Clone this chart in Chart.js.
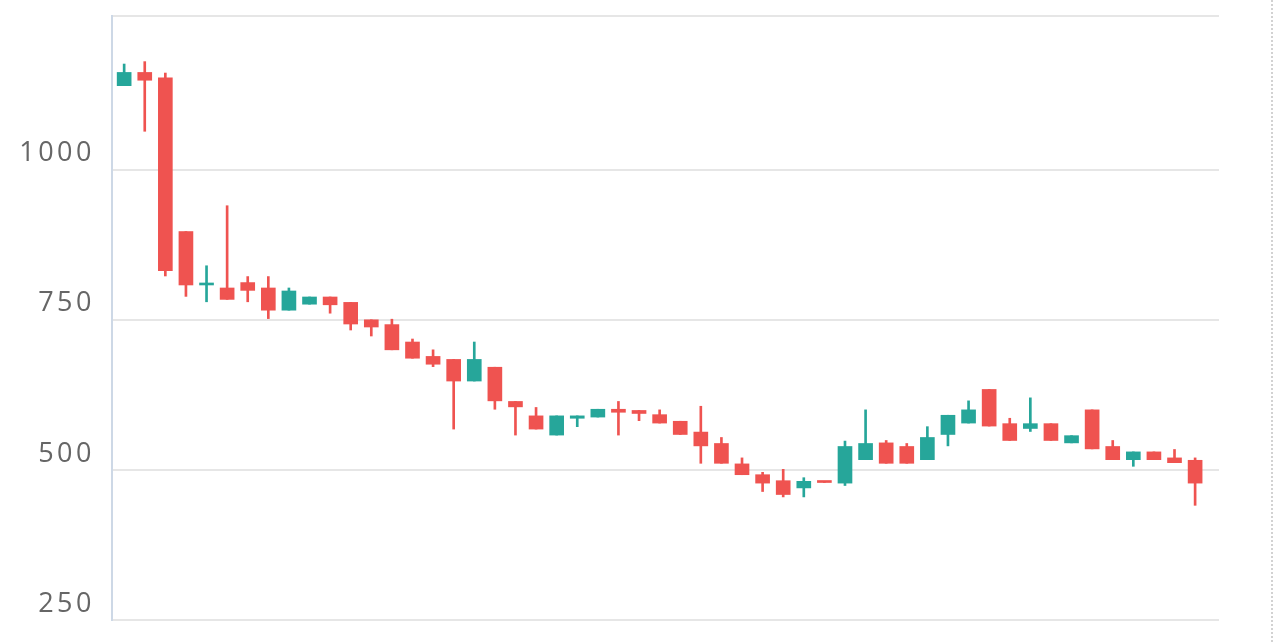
<!DOCTYPE html>
<html>
<head>
<meta charset="utf-8">
<script src="https://cdn.jsdelivr.net/npm/chart.js@4"></script>
<style>
  html, body { margin: 0; padding: 0; background: #fff; }
  .wrap { position: relative; width: 1280px; height: 642px; }
  .edge {
    position: absolute; left: 1271px; top: 0; width: 0; height: 642px;
    border-left: 2px dotted #d2d2d2;
  }
</style>
</head>
<body>
<div class="wrap">
  <canvas id="chartCandle"></canvas>
  <div class="edge"></div>
</div>
<script>
const days = [1, 2, 3, 4, 5, 6, 7, 8, 9, 10, 11, 12, 13, 14, 15, 16, 17, 18, 19, 20,
  21, 22, 23, 24, 25, 26, 27, 28, 29, 30, 31, 32, 33, 34, 35, 36, 37, 38, 39, 40,
  41, 42, 43, 44, 45, 46, 47, 48, 49, 50, 51, 52, 53];

const open = [1140, 1162, 1153, 897, 808, 803, 812, 803, 766, 776, 788, 779, 750, 742, 713, 689, 684, 648, 671, 614,
  590, 558, 586, 588, 601, 599, 592, 581, 563, 544, 510, 492, 482, 470, 481, 478, 517, 545, 539, 517,
  559, 578, 634, 577, 569, 577, 545, 600, 539, 517, 530, 520, 516];
const high = [1176, 1180, 1161, 897, 840, 940, 822, 822, 803, 788, 788, 779, 750, 751, 718, 700, 684, 713, 671, 614,
  604, 590, 590, 601, 614, 599, 600, 581, 606, 554, 520, 496, 501, 487, 481, 548, 600, 549, 544, 572,
  591, 615, 634, 586, 620, 577, 557, 600, 549, 530, 530, 534, 520];
const low = [1140, 1064, 823, 789, 780, 784, 780, 752, 766, 776, 761, 733, 723, 700, 686, 672, 568, 648, 601, 558,
  568, 558, 572, 588, 558, 582, 578, 559, 511, 511, 492, 464, 455, 455, 479, 474, 517, 511, 511, 517,
  540, 578, 573, 549, 564, 549, 545, 535, 517, 506, 517, 512, 441];
const close = [1162, 1149, 832, 808, 811, 784, 799, 766, 798, 788, 775, 743, 738, 700, 686, 676, 648, 684, 615, 605,
  568, 590, 590, 601, 596, 594, 578, 559, 540, 511, 492, 478, 459, 481, 479, 539, 544, 511, 511, 554,
  591, 600, 573, 549, 577, 549, 557, 535, 517, 530, 517, 512, 478];

const yTicks = [250, 500, 750, 1000];
const yMin = 250;
const yMax = 1256;

const upColor = "#26a69a";
const downColor = "#ef5350";

const candleColor = () => {
  return ctx => {
    const i = ctx.dataIndex;
    return close[i] >= open[i] ? upColor : downColor;
  };
};

const letterSpacing = {
  id: "letterSpacing",
  beforeDraw: chart => {
    chart.ctx.letterSpacing = "3.5px";
  },
};

const chart = document.getElementById("chartCandle").getContext("2d");

const candleChart = new Chart(chart, {
  type: "bar",
  data: {
    datasets: [
      {
        label: "body",
        data: days.map((d, i) => ({ x: d, y: [open[i], close[i]] })),
        backgroundColor: candleColor(),
        barThickness: 14,
        minBarLength: 2,
        grouped: false,
        borderWidth: 0,
        borderSkipped: false,
        order: 1,
      },
      {
        label: "wick",
        data: days.map((d, i) => ({ x: d, y: [low[i], high[i]] })),
        backgroundColor: candleColor(),
        barThickness: 2,
        grouped: false,
        borderWidth: 0,
        borderSkipped: false,
        order: 2,
      },
    ],
  },
  options: {
    responsive: true,
    maintainAspectRatio: false,
    animation: false,
    layout: {
      padding: { top: 16, right: 61, bottom: 22, left: 0 },
    },
    plugins: {
      legend: { display: false },
      tooltip: { enabled: false },
    },
    scales: {
      x: {
        type: "linear",
        min: 0.41,
        max: 54.16,
        offset: false,
        display: false,
      },
      y: {
        min: yMin,
        max: yMax,
        afterBuildTicks: axis => {
          axis.ticks = yTicks.concat([yMax]).map(value => ({ value }));
        },
        afterFit: axis => {
          axis.width = 112;
          axis.paddingTop = 0;
          axis.paddingBottom = 0;
        },
        grid: {
          color: "#e6e6e6",
          lineWidth: 2,
          drawTicks: false,
        },
        border: {
          color: "#cdd8e6",
          width: 2,
        },
        ticks: {
          padding: 17,
          labelOffset: -16,
          color: "#666666",
          font: { family: "'Open Sans'", size: 27 },
          callback: value => (yTicks.includes(value) ? String(value) : ""),
        },
      },
    },
  },
  plugins: [letterSpacing],
});
</script>
</body>
</html>
